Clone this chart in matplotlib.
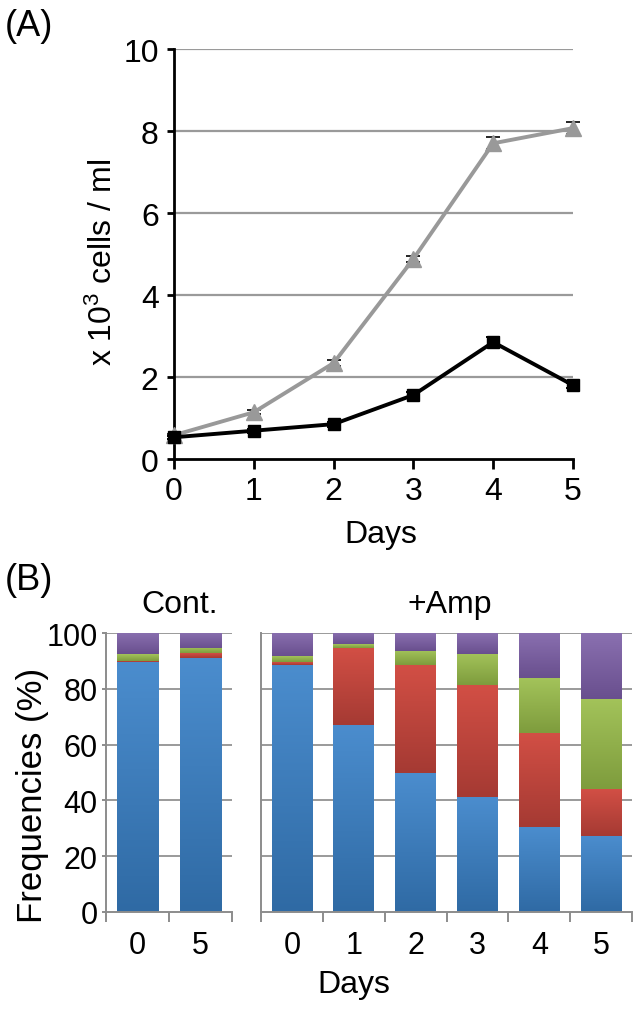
import numpy as np
import matplotlib
matplotlib.use("Agg")
import matplotlib.pyplot as plt
from matplotlib.colors import LinearSegmentedColormap

plt.rcParams['font.family'] = ['Liberation Sans', 'DejaVu Sans']
plt.rcParams['mathtext.fontset'] = 'custom'
plt.rcParams['mathtext.rm'] = 'Liberation Sans'
plt.rcParams['mathtext.it'] = 'Liberation Sans'

# ---------------- Data ----------------
days = [0, 1, 2, 3, 4, 5]
amp_cells = [0.58, 1.14, 2.34, 4.88, 7.70, 8.07]
amp_err = [0.03, 0.05, 0.08, 0.08, 0.15, 0.15]
cont_cells = [0.53, 0.69, 0.85, 1.56, 2.85, 1.80]
cont_err = [0.04, 0.05, 0.06, 0.07, 0.12, 0.06]

cont_labels = ['0', '5']
amp_labels = ['0', '1', '2', '3', '4', '5']
cont_blue = [89.6, 91.1]
cont_red = [0.4, 1.7]
cont_green = [2.3, 1.8]
cont_purple = [7.7, 5.4]
amp_blue = [88.6, 67.1, 49.7, 41.2, 30.4, 27.3]
amp_red = [1.0, 27.5, 38.7, 40.0, 33.7, 16.7]
amp_green = [2.0, 1.4, 5.3, 11.4, 19.7, 32.4]
amp_purple = [8.4, 4.0, 6.3, 7.4, 16.2, 23.6]

W, H = 642, 1012
fig = plt.figure(figsize=(W / 100, H / 100), dpi=100)

def fx(px):
    return px / W

def fy(py):
    return 1 - py / H

FS = 23
# ---------------- Panel A ----------------
axA = fig.add_axes([fx(174), fy(460), fx(573) - fx(174), fy(50) - fy(460)])
axA.set_xlim(0, 5)
axA.set_ylim(0, 10)
axA.set_yticks([0, 2, 4, 6, 8, 10])
axA.set_xticks(days)
for v in [2, 4, 6, 8, 10]:
    axA.axhline(v, color='#9a9a9a', lw=1.6, zorder=1)
for s in ['top', 'right']:
    axA.spines[s].set_visible(False)
for s in ['left', 'bottom']:
    axA.spines[s].set_linewidth(2.0)
    axA.spines[s].set_color('black')
axA.tick_params(axis='both', labelsize=FS, width=2.0, direction='out', color='black')
axA.tick_params(axis='y', length=5, pad=6)
axA.tick_params(axis='x', length=7, pad=5)

axA.errorbar(days, amp_cells, yerr=amp_err, color='#999999', lw=2.8, marker='^',
             ms=11, mfc='#999999', mec='#999999', ecolor='black', elinewidth=1.2,
             capsize=5, capthick=1.2, zorder=3, clip_on=False)
axA.errorbar(days, cont_cells, yerr=cont_err, color='black', lw=2.8, marker='s',
             ms=9, mfc='black', mec='black', ecolor='black', elinewidth=1.4,
             capsize=5, capthick=1.4, zorder=4, clip_on=False)

fig.text(fx(103), fy(262), 'x 10$^{3}$ cells / ml', rotation=90, ha='center',
         va='center', fontsize=FS)
fig.text(fx(381), fy(535), 'Days', ha='center', va='center', fontsize=FS)
fig.text(fx(5), fy(27), '(A)', ha='left', va='center', fontsize=26)

# ---------------- Panel B ----------------
cols = {
    'blue': ('#2f6aa4', '#4b8dce'),
    'red': ('#a53a33', '#d24f45'),
    'green': ('#7e9c3d', '#a3c35a'),
    'purple': ('#694f8e', '#8a70b0'),
}
grad = np.linspace(0, 1, 256).reshape(-1, 1)

def grad_stack(ax, series, names):
    n = len(series[0])
    x = np.arange(n)
    bottom = np.zeros(n)
    for vals, name in zip(series, names):
        bars = ax.bar(x, vals, 0.66, bottom=bottom, color='none', edgecolor='none', zorder=2)
        cmap = LinearSegmentedColormap.from_list(name, [cols[name][0], cols[name][1]])
        for p in bars:
            x0, y0 = p.get_x(), p.get_y()
            w, h = p.get_width(), p.get_height()
            im = ax.imshow(grad, extent=[x0, x0 + w, y0, y0 + h], origin='lower',
                           cmap=cmap, aspect='auto', zorder=2, interpolation='bilinear')
            im.set_clip_path(p)
        bottom = bottom + np.array(vals)

def style_B(ax, labels, show_y):
    n = len(labels)
    ax.set_xlim(-0.5, n - 0.5)
    ax.set_ylim(0, 100)
    ax.set_yticks([0, 20, 40, 60, 80, 100])
    for v in [20, 40, 60, 80, 100]:
        ax.axhline(v, color='#9a9a9a', lw=1.4, zorder=1)
    for s in ['top', 'right']:
        ax.spines[s].set_visible(False)
    for s in ['left', 'bottom']:
        ax.spines[s].set_color('#8c8c8c')
        ax.spines[s].set_linewidth(1.4)
    ax.set_xticks(range(n))
    ax.set_xticklabels(labels)
    ax.set_xticks(np.arange(-0.5, n, 1.0), minor=True)
    ax.tick_params(axis='x', which='major', length=0, labelsize=22, pad=13)
    ax.tick_params(axis='x', which='minor', length=7, width=1.4, color='#8c8c8c',
                   direction='out')
    if show_y:
        ax.tick_params(axis='y', length=3, width=1.4, color='#8c8c8c', labelsize=22, pad=3)
    else:
        ax.tick_params(axis='y', length=0, labelleft=False)

axC = fig.add_axes([fx(106), fy(913), fx(232) - fx(106), fy(634) - fy(913)])
grad_stack(axC, [cont_blue, cont_red, cont_green, cont_purple],
           ['blue', 'red', 'green', 'purple'])
style_B(axC, cont_labels, True)

axM = fig.add_axes([fx(261), fy(913), fx(632) - fx(261), fy(634) - fy(913)])
grad_stack(axM, [amp_blue, amp_red, amp_green, amp_purple],
           ['blue', 'red', 'green', 'purple'])
style_B(axM, amp_labels, False)

fig.text(fx(33), fy(795), 'Frequencies (%)', rotation=90, ha='center', va='center', fontsize=25)
fig.text(fx(180), fy(605), 'Cont.', ha='center', va='center', fontsize=FS)
fig.text(fx(450), fy(605), '+Amp', ha='center', va='center', fontsize=FS)
fig.text(fx(354), fy(985), 'Days', ha='center', va='center', fontsize=FS)
fig.text(fx(5), fy(580), '(B)', ha='left', va='center', fontsize=26)

fig.savefig('out.png', dpi=100)
